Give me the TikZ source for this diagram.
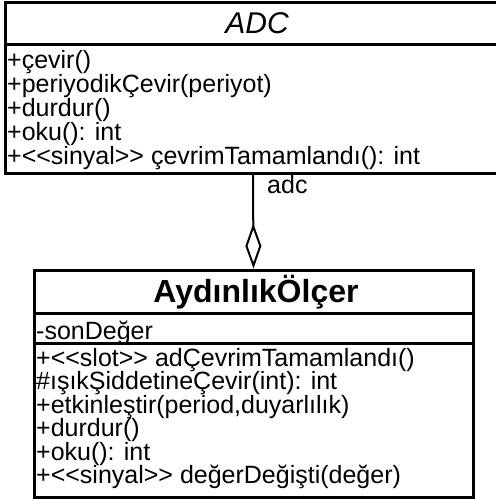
\documentclass[tikz,border=0pt]{standalone}
\usepackage{fontspec}
\setmainfont{Liberation Sans}[Ligatures=TeXOff]
\usetikzlibrary{arrows.meta}
\tikzset{
  classbox/.style={draw, line width=3pt, inner sep=0pt},
  sepline/.style={line width=3pt},
  member/.style={anchor=base west, inner sep=0pt, font=\fontsize{25}{25}\selectfont},
  ctitle/.style={anchor=base, inner sep=0pt},
  assoc/.style={line width=2pt, -{Diamond[open, length=45pt, width=16pt, line width=2pt]}},
}
\begin{document}
\begin{tikzpicture}[x=1pt, y=-1pt]
\useasboundingbox (0,0) rectangle (496,499);
\fill[white] (0,0) rectangle (496,499);
% ADC class
\draw[classbox] (5,2) rectangle (509,173);
\draw[sepline] (5,44) -- (509,44);
\node[ctitle, font=\fontsize{30}{30}\selectfont\itshape] (adct) at (257,33) {ADC};
\node[member] (a1) at (7,68) {+çevir()};
\node[member] (a2) at (7,92) {+periyodikÇevir(periyot)};
\node[member] (a3) at (7,116) {+durdur()};
\node[member] (a4) at (7,140) {+oku(): int};
\node[member] (a5) at (7,164) {+<<sinyal>> çevrimTamamlandı(): int};
% AydinlikOlcer class
\node[classbox, minimum width=439pt, minimum height=227pt] (ayd) at (253.5,383.5) {};
\draw[sepline] (34,313) -- (473,313);
\draw[sepline] (34,343) -- (473,343);
\node[ctitle, font=\fontsize{32}{32}\selectfont\bfseries] (aydt) at (256,302) {AydınlıkÖlçer};
\node[member] (b0) at (36,339) {-sonDeğer};
\node[member] (b1) at (36,366) {+<<slot>> adÇevrimTamamlandı()};
\node[member] (b2) at (36,389.5) {\#ışıkŞiddetineÇevir(int): int};
\node[member] (b3) at (36,413) {+etkinleştir(period,duyarlılık)};
\node[member] (b4) at (36,436.5) {+durdur()};
\node[member] (b5) at (36,460) {+oku(): int};
\node[member] (b6) at (36,483.5) {+<<sinyal>> değerDeğişti(değer)};
% association
\coordinate (adcb) at (253,173);
\draw[assoc] (adcb) -- (ayd.north);
\node[member] (lbl) at (267,193) {adc};
\end{tikzpicture}
\end{document}
